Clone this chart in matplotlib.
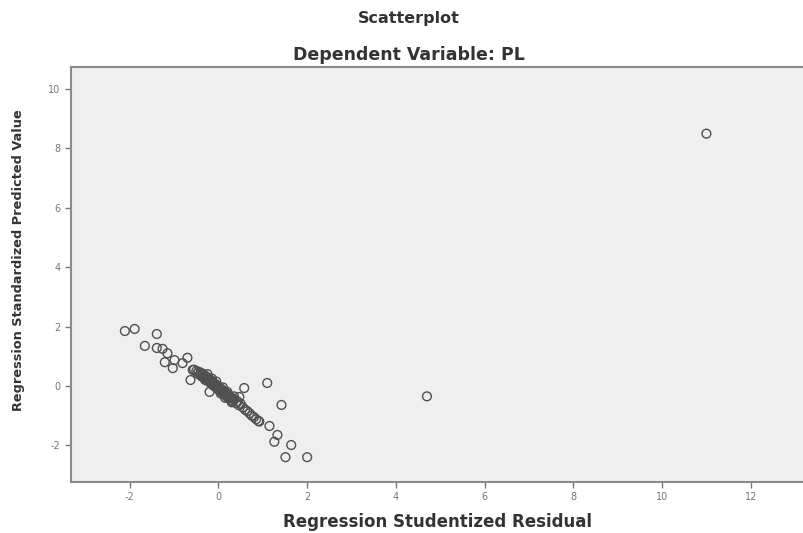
import matplotlib
matplotlib.use('Agg')
import matplotlib.pyplot as plt

plt.rcParams['axes.unicode_minus'] = False

# studentized residual (x) vs standardized predicted value (y)
resid = [-2.11, -1.89, -1.39, -1.66, -1.39, -1.26, -1.15, -1.21, -1.03, -0.99,
         -0.81, -0.70, -0.63, -0.58, -0.55, -0.50, -0.48, -0.45, -0.42, -0.40,
         -0.38, -0.35, -0.33, -0.30, -0.28, -0.26, -0.24, -0.22, -0.20, -0.18,
         -0.16, -0.14, -0.12, -0.10, -0.08, -0.06, -0.04, -0.02, 0.00, 0.02,
         0.04, 0.06, 0.08, 0.10, 0.12, 0.14, 0.16, 0.18, 0.20, 0.22,
         0.24, 0.26, 0.28, 0.30, 0.33, 0.36, 0.40, 0.43, 0.46, 0.50,
         0.55, 0.60, 0.65, 0.70, 0.75, 0.80, 0.85, 0.90, -0.30, -0.15,
         0.05, 0.10, 0.20, 0.30, -0.05, 0.15, 0.35, -0.25, -0.20, 0.58,
         0.47, 1.10, 1.42, 0.92, 1.15, 1.33, 1.26, 1.64, 1.51, 2.00,
         4.70, 11.00]
pred = [1.85, 1.92, 1.75, 1.35, 1.28, 1.25, 1.10, 0.80, 0.60, 0.87,
        0.77, 0.95, 0.20, 0.54, 0.55, 0.50, 0.42, 0.48, 0.38, 0.45,
        0.32, 0.40, 0.28, 0.35, 0.22, 0.30, 0.18, 0.25, 0.12, 0.20,
        0.08, 0.15, 0.02, 0.10, -0.02, 0.05, -0.08, 0.00, -0.12, -0.05,
        -0.18, -0.10, -0.22, -0.15, -0.28, -0.20, -0.32, -0.25, -0.38, -0.30,
        -0.42, -0.35, -0.48, -0.40, -0.52, -0.45, -0.58, -0.52, -0.65, -0.60,
        -0.72, -0.80, -0.85, -0.92, -1.00, -1.05, -1.12, -1.18, 0.20, 0.25,
        -0.25, -0.05, -0.20, -0.55, 0.15, -0.40, -0.35, 0.40, -0.20, -0.07,
        -0.37, 0.10, -0.64, -1.20, -1.35, -1.65, -1.88, -1.99, -2.40, -2.40,
        -0.35, 8.50]

x_ticks = [-2, 0, 2, 4, 6, 8, 10, 12]
y_ticks = [-2, 0, 2, 4, 6, 8, 10]

fig = plt.figure(figsize=(8.04, 5.33), dpi=100)
ax = fig.add_axes([0.088, 0.096, 0.912, 0.778])
ax.set_facecolor('#efefef')

ax.scatter(resid, pred, s=40, facecolors='none', edgecolors='#505050', linewidths=1.0)

ax.set_xlim(-3.33, 13.2)
ax.set_ylim(-3.23, 10.74)
ax.set_xticks(x_ticks)
ax.set_yticks(y_ticks)
ax.tick_params(direction='out', length=4, width=1, colors='#777777', labelsize=7,
               labelcolor='#777777')
for side in ['left', 'bottom', 'top']:
    ax.spines[side].set_color('#8a8a8a')
    ax.spines[side].set_linewidth(1.5)
ax.spines['right'].set_visible(False)

bold = dict(fontweight='bold', family='DejaVu Sans', color='#333333')
fig.text(0.509, 0.966, 'Scatterplot', ha='center', va='center', fontsize=11.5, **bold)
fig.text(0.509, 0.897, 'Dependent Variable: PL', ha='center', va='center', fontsize=12.5, **bold)
ax.set_xlabel('Regression Studentized Residual', fontsize=12, labelpad=8, **bold)
ax.set_ylabel('Regression Standardized Predicted Value', fontsize=9.3, **bold)
ax.yaxis.set_label_coords(-0.062, 0.535)

fig.savefig('out.png', dpi=100)
